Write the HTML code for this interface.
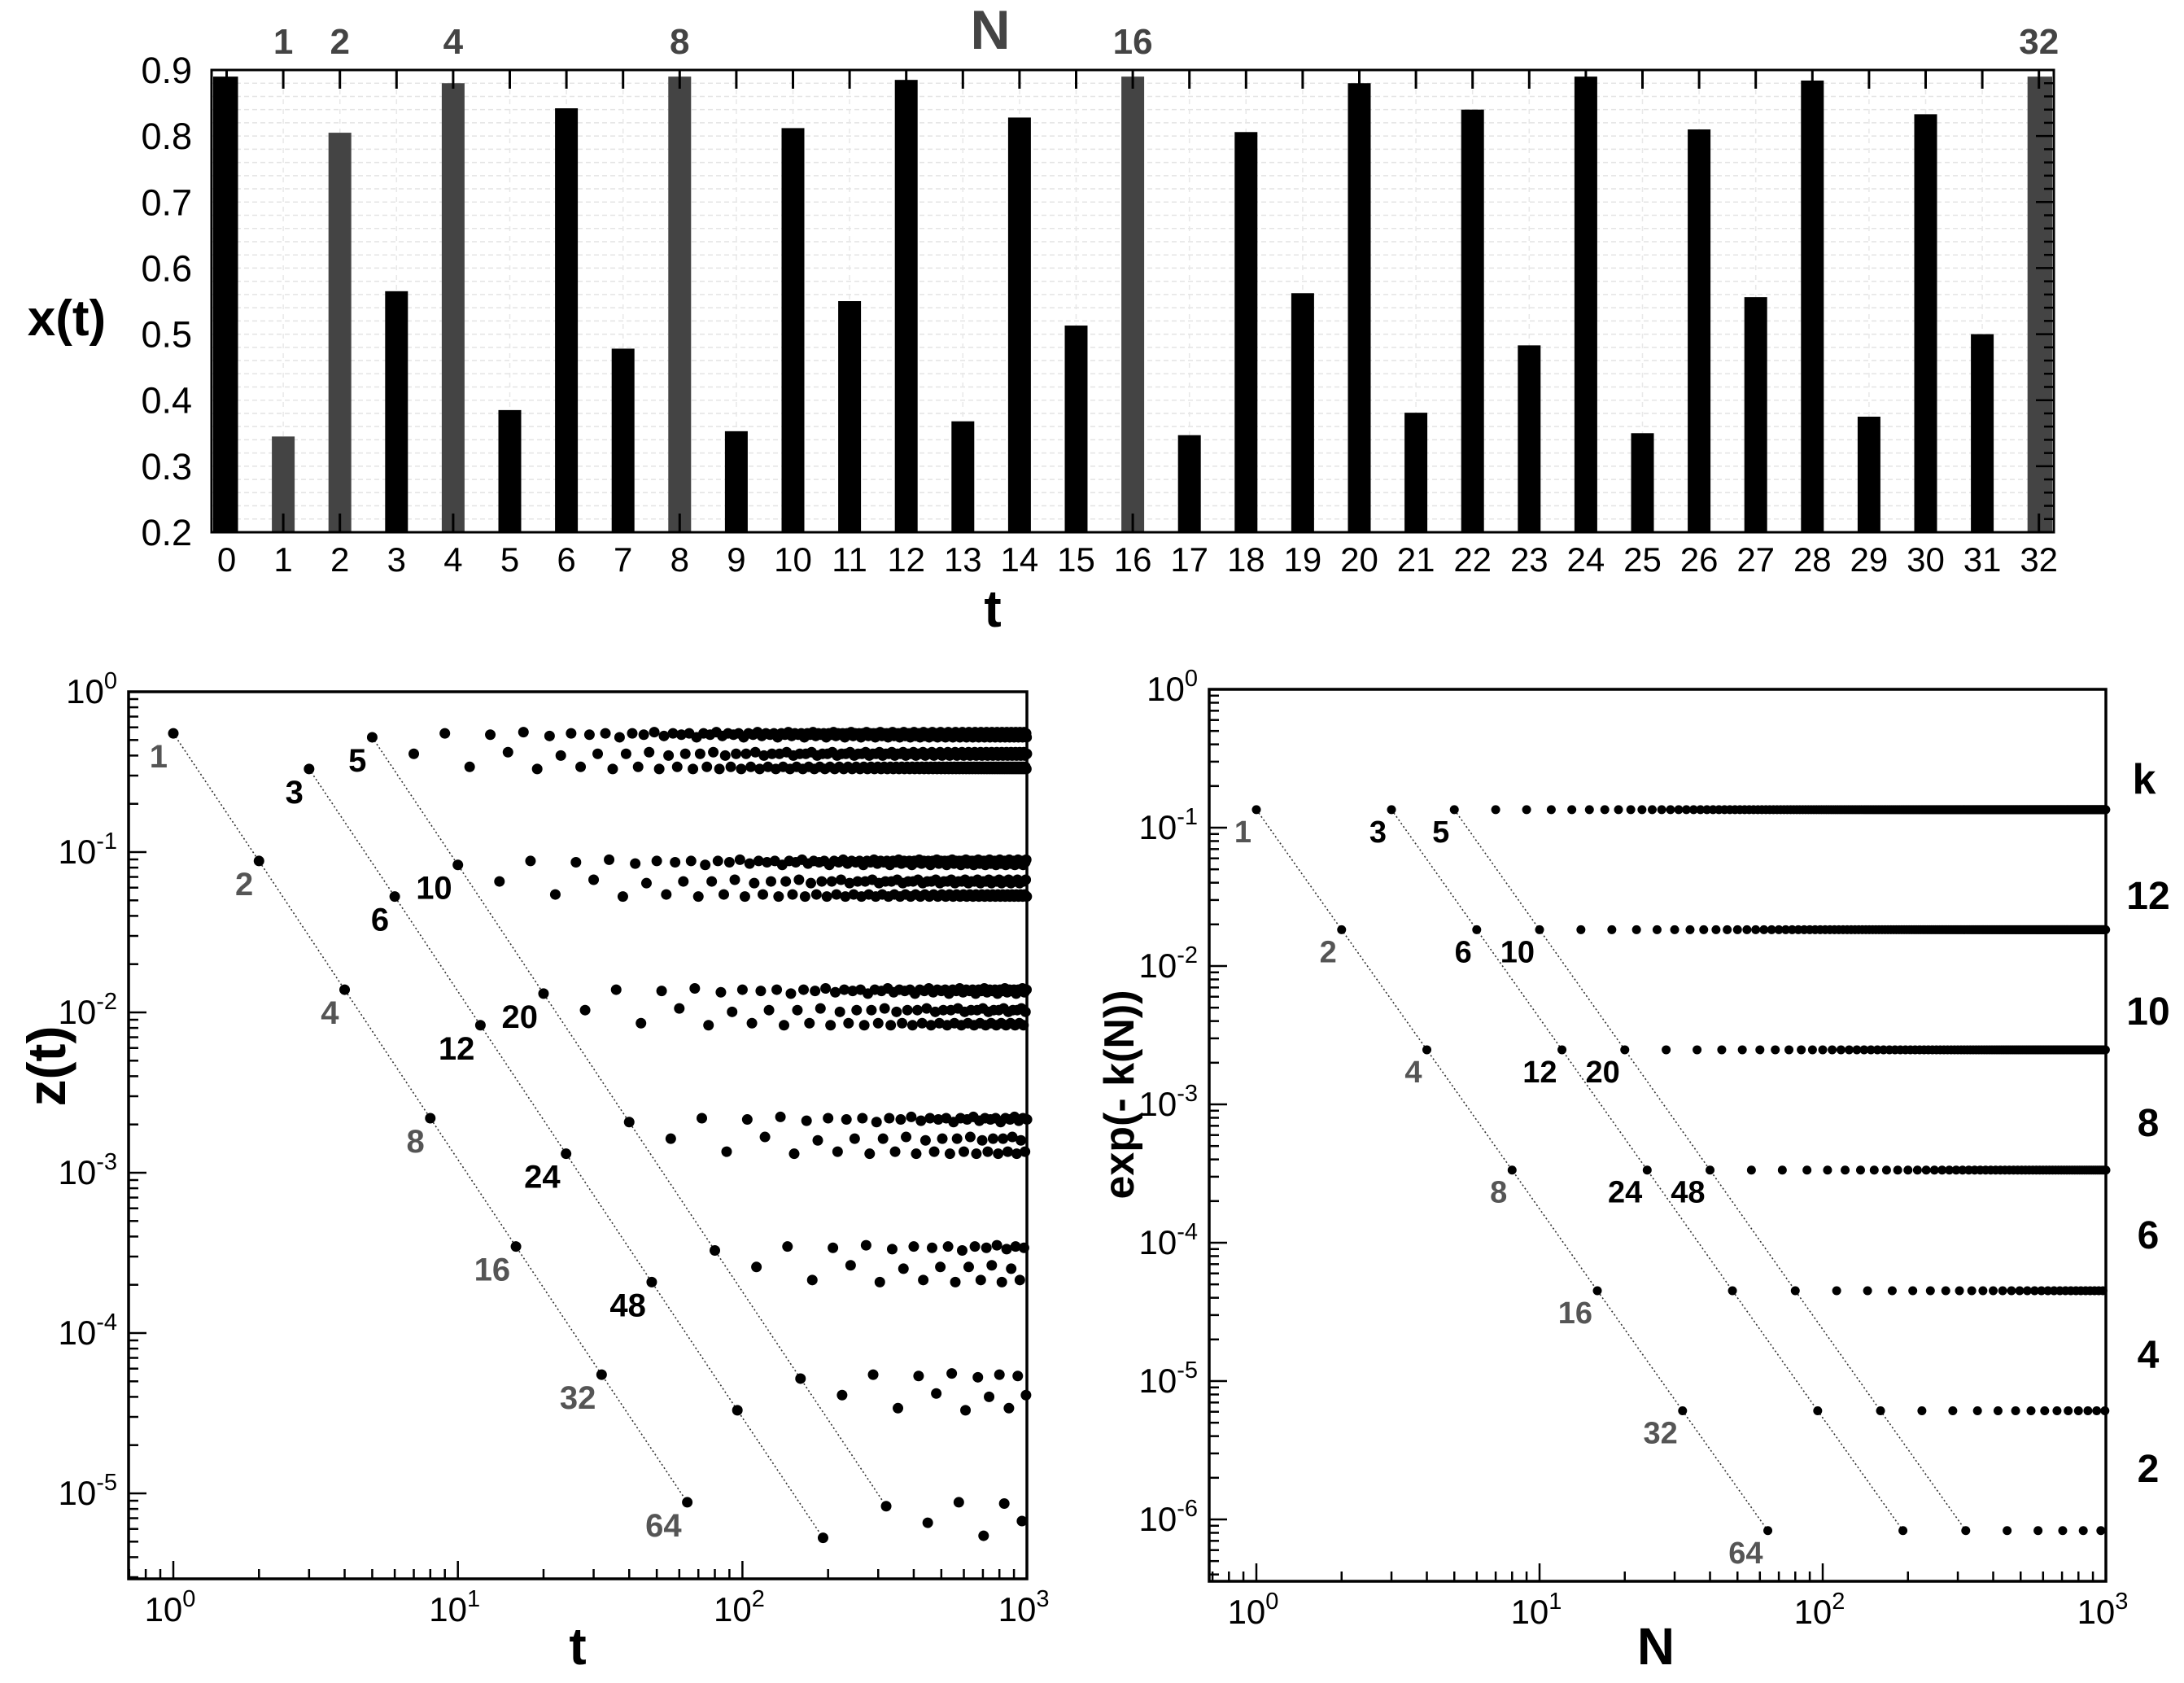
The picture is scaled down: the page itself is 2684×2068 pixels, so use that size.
<!DOCTYPE html>
<html><head><meta charset="utf-8"><style>
html,body{margin:0;padding:0;background:#fff}
svg{display:block;font-family:"Liberation Sans",Arial,sans-serif}
</style></head><body>
<svg id="fig" width="2684" height="2068" viewBox="0 0 2684 2068" xmlns="http://www.w3.org/2000/svg">
<g id="top"></g>
<g id="left"></g>
<g id="right"></g>
</svg>
<script>
// ---------- data ----------
const barT = [0,1,2,3,4,5,6,7,8,9,10,11,12,13,14,15,16,17,18,19,20,21,22,23,24,25,26,27,28,29,30,31,32];
const barX = [0.89,0.345,0.805,0.565,0.88,0.385,0.842,0.478,0.89,0.353,0.812,0.55,0.885,0.368,0.828,0.513,0.89,0.347,0.806,0.562,0.88,0.381,0.84,0.483,0.89,0.35,0.81,0.556,0.884,0.375,0.833,0.5,0.89];
const highlightN = [1,2,4,8,16,32];
const yTicksTop = [0.2,0.3,0.4,0.5,0.6,0.7,0.8,0.9];
// left chart: z(t) at t = m*2^k, m odd
const oddFactor = [0.55,0.33,0.52,0.41,0.55,0.34,0.54,0.42,0.56,0.33,0.53,0.40,0.55,0.34,0.54,0.41];
const bandScaleZ = [1,0.16,0.0252,0.00398,0.00063,0.0001,0.000016];
const diagM = [1,3,5];
const diagLabelsL = [["1","2","4","8","16","32","64"],["3","6","12","24","48","",""],["5","10","20","","","",""]];
// right chart: exp(-k(N)) at N = m*2^j
const bandLevelR = [0.135,0.0183,0.00248,0.000335,0.000045,0.0000061,0.00000083];
const kLabels = ["12","10","8","6","4","2"];
const diagLabelsR = [["1","2","4","8","16","32","64"],["3","6","12","24","","",""],["5","10","20","48","","",""]];
const logTicks = [0,1,2,3];

const NS="http://www.w3.org/2000/svg";
function el(parent,tag,attrs,text){const e=document.createElementNS(NS,tag);for(const k in attrs)e.setAttribute(k,attrs[k]);if(text!==undefined)e.textContent=text;parent.appendChild(e);return e;}

// ---------- top bar chart ----------
(function(){
 const g=document.getElementById('top');
 const L=260,R=2524,T=86,B=654;
 const xs=t=>278.5+t*69.6, ys=v=>B-(v-0.2)/0.7*(B-T);
 for(let v=0.22;v<0.9;v+=0.02){const l=el(g,'line',{x1:L,x2:R,y1:ys(v),y2:ys(v),stroke:'#e4e4e4','stroke-width':1.5,'stroke-dasharray':'6 4'});}
 for(let t=1;t<32;t++){const l=el(g,'line',{x1:xs(t),x2:xs(t),y1:T,y2:B,stroke:'#e8e8e8','stroke-width':1.5,'stroke-dasharray':'6 6'});}
 barT.forEach((t,i)=>{
  const hl=highlightN.indexOf(t)>=0;
  const w=28;let x0=xs(t)-w/2;let x1=xs(t)+w/2;
  if(t===0){x0=L+2;x1=xs(t)+w/2;}
  if(t===32){x1=R-2;x0=xs(t)-14;}
  const r=el(g,'rect',{x:x0,y:ys(barX[i]),width:x1-x0,height:B-ys(barX[i]),fill:hl?'#444':'#000'});
  
  
 });
 const f=el(g,'rect',{x:L,y:T,width:R-L,height:B-T,fill:'none',stroke:'#000','stroke-width':3});
 
 barT.forEach(t=>{
  el(g,'line',{x1:xs(t),x2:xs(t),y1:T,y2:T+23,stroke:'#000','stroke-width':3});
  el(g,'line',{x1:xs(t),x2:xs(t),y1:B,y2:B-23,stroke:'#000','stroke-width':3});
  const tx=el(g,'text',{x:xs(t),y:702,'font-size':42,'text-anchor':'middle',fill:'#000'},String(t));
  
 });
 for(let v=0.22;v<0.9;v+=0.02){const major=Math.abs((v*10)-Math.round(v*10))<0.01;el(g,'line',{x1:R,x2:R-(major?22:12),y1:ys(v),y2:ys(v),stroke:'#000','stroke-width':2.5});}
 yTicksTop.forEach(v=>{const tx=el(g,'text',{x:236,y:ys(v)+16,'font-size':45,'text-anchor':'end'},v.toFixed(1));});
 highlightN.forEach(n=>{const tx=el(g,'text',{x:xs(n),y:66,'font-size':44,'font-weight':'bold','text-anchor':'middle',fill:'#444'},String(n));});
 let a=el(g,'text',{x:1217,y:60,'font-size':68,'font-weight':'bold','text-anchor':'middle',fill:'#444'},'N');
 a=el(g,'text',{x:1220,y:770,'font-size':64,'font-weight':'bold','text-anchor':'middle'},'t');
 a=el(g,'text',{x:82,y:412,'font-size':62,'font-weight':'bold','text-anchor':'middle'},'x(t)');
})();

// ---------- log-log helper ----------
function logPlot(g,o){
 const xs=v=>o.x0+Math.log10(v)*o.dx, ys=v=>o.y0-Math.log10(v)*o.dy;
 for(let d=-1;d<3;d++)for(let m=1;m<10;m++){const v=m*Math.pow(10,d);const x=xs(v);if(x<o.L||x>o.R)continue;const len=m===1?22:12;el(g,'line',{x1:x,x2:x,y1:o.B,y2:o.B-len,stroke:'#000','stroke-width':2.5});}
 for(let d=-7;d<1;d++)for(let m=1;m<10;m++){const v=m*Math.pow(10,d);const y=ys(v);if(y<o.T||y>o.B)continue;const len=m===1?22:12;el(g,'line',{x1:o.L,x2:o.L+len,y1:y,y2:y,stroke:'#000','stroke-width':2.5});}
 logTicks.forEach(e=>{const t=el(g,'text',{x:xs(Math.pow(10,e))-4,y:o.B+52,'font-size':42,'text-anchor':'middle'});el(t,'tspan',{},'10');el(t,'tspan',{dy:-18,'font-size':29},String(e));});
 o.yt.forEach(e=>{const t=el(g,'text',{x:o.L-14,y:ys(Math.pow(10,e))+14,'font-size':42,'text-anchor':'end'});el(t,'tspan',{},'10');el(t,'tspan',{dy:-18,'font-size':29},String(e));});
 const f=el(g,'rect',{x:o.L,y:o.T,width:o.R-o.L,height:o.B-o.T,fill:'none',stroke:'#000','stroke-width':3.5});
 
 return {xs,ys};
}

// ---------- left chart ----------
(function(){
 const g=document.getElementById('left');
 const o={L:158,R:1262,T:850,B:1940,x0:213,dx:349.7,y0:850,dy:197,yt:[0,-1,-2,-3,-4,-5]};
 const {xs,ys}=logPlot(g,o);
 const zval=(m,k)=>oddFactor[((m-1)/2)%oddFactor.length]*bandScaleZ[k];
 diagM.forEach((m,di)=>{
  let pts=[];for(let k=0;k<bandScaleZ.length;k++){const t=m*Math.pow(2,k);if(t>1000)break;pts.push(xs(t)+','+ys(zval(m,k)));}
  const p=el(g,'polyline',{points:pts.join(' '),fill:'none',stroke:'#333','stroke-width':1.6,'stroke-dasharray':'2 3'});
  
 });
 for(let k=0;k<bandScaleZ.length;k++){
  for(let m=1;m*Math.pow(2,k)<=1000;m+=2){
   const t=m*Math.pow(2,k);
   const c=el(g,'circle',{cx:xs(t),cy:ys(zval(m,k)),r:6.5,fill:'#000'});
   
   
  }
 }
 diagM.forEach((m,di)=>{for(let k=0;k<diagLabelsL[di].length;k++){const s=diagLabelsL[di][k];if(!s)continue;const t=m*Math.pow(2,k);
  const tx=el(g,'text',{x:xs(t)-7,y:ys(zval(m,k))+42,'font-size':40,'font-weight':'bold','text-anchor':'end',fill:di===0?'#555':'#000'},s);
  }});
 let a=el(g,'text',{x:710,y:2045,'font-size':64,'font-weight':'bold','text-anchor':'middle'},'t');
 a=el(g,'text',{x:0,y:0,'font-size':66,'font-weight':'bold','text-anchor':'middle',transform:'translate(80,1310) rotate(-90)'},'z(t)');
})();

// ---------- right chart ----------
(function(){
 const g=document.getElementById('right');
 const o={L:1486,R:2588,T:847,B:1943,x0:1544,dx:348,y0:847,dy:170,yt:[0,-1,-2,-3,-4,-5,-6]};
 const {xs,ys}=logPlot(g,o);
 diagM.forEach((m,di)=>{
  let pts=[];for(let j=0;j<bandLevelR.length;j++){const n=m*Math.pow(2,j);if(n>1000)break;pts.push(xs(n)+','+ys(bandLevelR[j]));}
  const p=el(g,'polyline',{points:pts.join(' '),fill:'none',stroke:'#333','stroke-width':1.6,'stroke-dasharray':'2 3'});
  
 });
 for(let j=0;j<bandLevelR.length;j++){
  for(let m=1;m*Math.pow(2,j)<=1000;m+=2){
   const n=m*Math.pow(2,j);
   const c=el(g,'circle',{cx:xs(n),cy:ys(bandLevelR[j]),r:5.5,fill:'#000'});
   
   
  }
 }
 diagM.forEach((m,di)=>{for(let j=0;j<diagLabelsR[di].length;j++){const s=diagLabelsR[di][j];if(!s)continue;const n=m*Math.pow(2,j);
  const tx=el(g,'text',{x:xs(n)-6,y:ys(bandLevelR[j])+40,'font-size':38,'font-weight':'bold','text-anchor':'end',fill:di===0?'#555':'#000'},s);
  }});
 const kY=[1099,1241,1378,1516,1663,1803];
 let a=el(g,'text',{x:2635,y:975,'font-size':52,'font-weight':'bold','text-anchor':'middle'},'k');
 kLabels.forEach((s,i)=>{const t=el(g,'text',{x:2640,y:kY[i]+18,'font-size':48,'font-weight':'bold','text-anchor':'middle'},s);});
 a=el(g,'text',{x:2035,y:2045,'font-size':64,'font-weight':'bold','text-anchor':'middle'},'N');
 a=el(g,'text',{x:0,y:0,'font-size':52,'font-weight':'bold','text-anchor':'middle',transform:'translate(1393,1345) rotate(-90)'},'exp(- k(N))');
})();
</script>
</body></html>
